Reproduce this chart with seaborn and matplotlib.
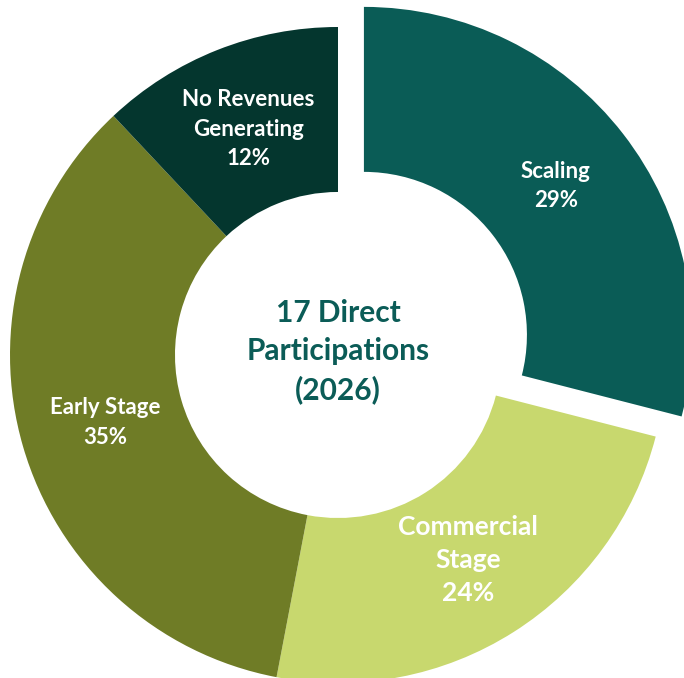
import matplotlib.pyplot as plt
import seaborn as sns

categories = ['Scaling', 'Commercial\nStage', 'Early Stage', 'No Revenues\nGenerating']
shares = [29, 24, 35, 12]
center_lines = ['17 Direct', 'Participations', '(2026)']

palette = ['#0a5c56', '#c8d86e', '#6f7c26', '#04362e']

sns.set_theme(style='white')
plt.rcParams['font.family'] = ['Lato', 'DejaVu Sans']

fig = plt.figure(figsize=(6.84, 6.78), dpi=100)
ax = fig.add_axes([0, 0, 1, 1])

labels = [f'{c}\n{s}%' for c, s in zip(categories, shares)]

wedges, texts = ax.pie(
    shares,
    labels=labels,
    colors=palette,
    startangle=90,
    counterclock=False,
    explode=[0.1, 0, 0, 0],
    labeldistance=0.74,
    wedgeprops=dict(width=0.503, linewidth=0),
    textprops=dict(color='white', fontweight='bold', fontsize=16,
                   ha='center', va='center', linespacing=1.5),
)

# commercial stage label is set larger in the original
texts[1].set_fontsize(19)
texts[1].set_linespacing(1.43)

ax.text(
    0, 0.01, '\n'.join(center_lines),
    ha='center', va='center',
    color='#0b5c57', fontsize=21.5, fontweight='bold',
    linespacing=1.43
)

# place the donut centre at the same spot as in the reference
ax.set_xlim(-1.0305, 1.0549)
ax.set_ylim(-0.9848, 1.0823)
ax.set_aspect('equal')
ax.axis('off')

plt.savefig('out.png', dpi=100, facecolor='white')
plt.close()
